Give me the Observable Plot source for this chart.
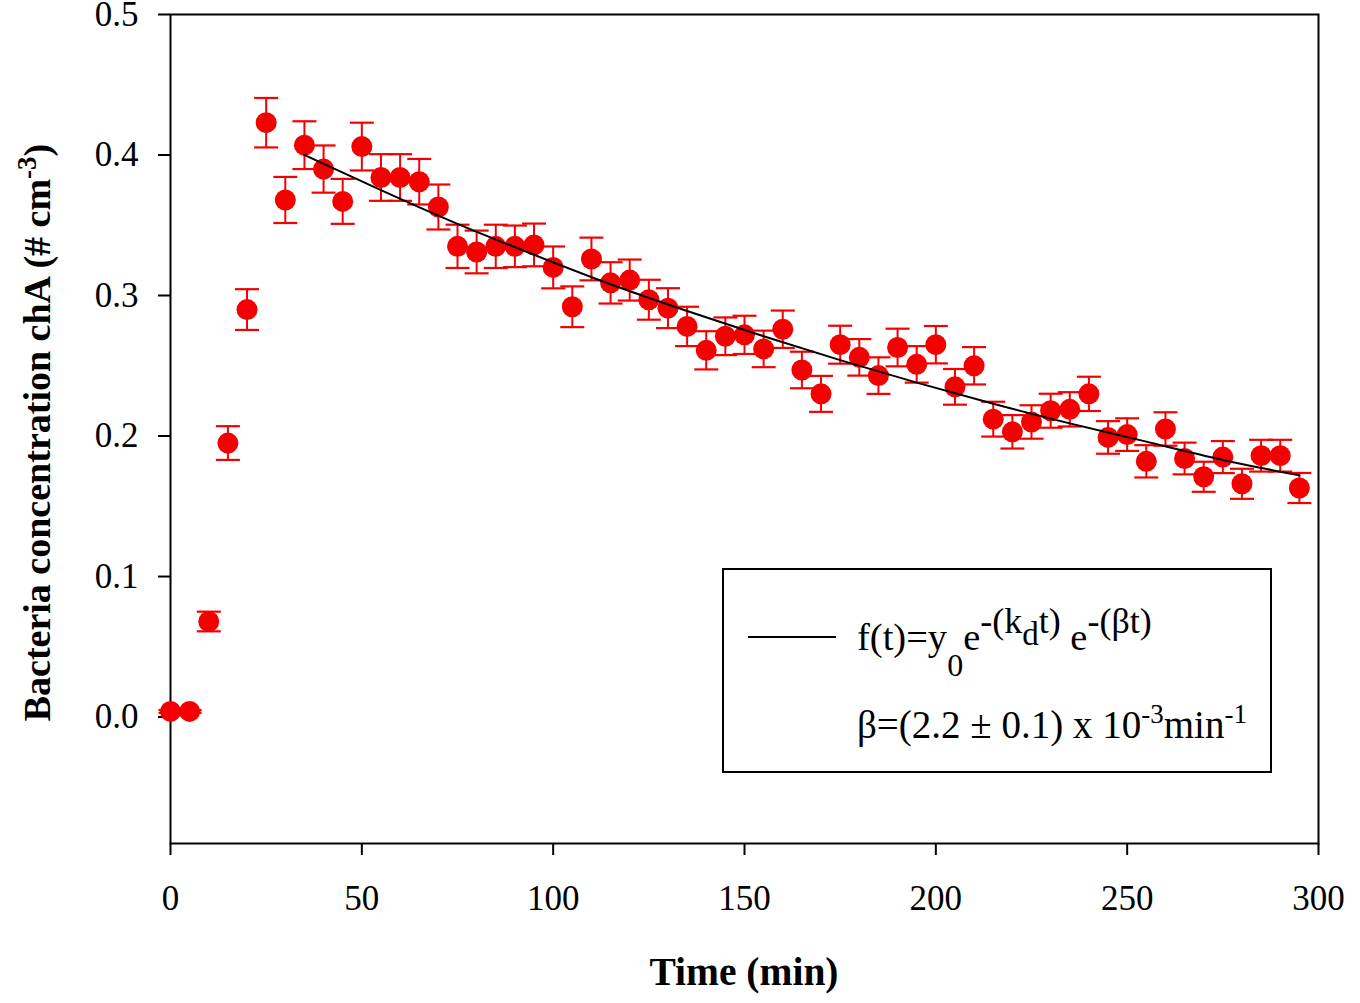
<!DOCTYPE html>
<html>
<head>
<meta charset="utf-8">
<script src="https://cdn.jsdelivr.net/npm/d3@7"></script>
<script src="https://cdn.jsdelivr.net/npm/@observablehq/plot@0.6"></script>
<style>
  body { margin: 0; background: #fff; }
  #chart svg { display: block; }
</style>
</head>
<body>
<div id="chart"></div>
<script>
// sampling times (min)
const times = [0, 5, 10, 15, 20, 25, 30, 35, 40, 45, 50, 55, 60, 65, 70, 75, 80, 85, 90, 95,
  100, 105, 110, 115, 120, 125, 130, 135, 140, 145, 150, 155, 160, 165, 170, 175, 180, 185, 190, 195,
  200, 205, 210, 215, 220, 225, 230, 235, 240, 245, 250, 255, 260, 265, 270, 275, 280, 285, 290, 295];

// bacteria concentration chA (# cm^-3)
const conc = [0.004, 0.004, 0.068, 0.195, 0.290, 0.423, 0.368, 0.407, 0.390, 0.367,
  0.406, 0.384, 0.384, 0.381, 0.363, 0.335, 0.331, 0.335, 0.335, 0.336,
  0.320, 0.292, 0.326, 0.309, 0.311, 0.297, 0.291, 0.278, 0.261, 0.271,
  0.272, 0.262, 0.276, 0.247, 0.230, 0.265, 0.256, 0.243, 0.263, 0.251,
  0.265, 0.235, 0.250, 0.212, 0.203, 0.210, 0.218, 0.219, 0.230, 0.199,
  0.201, 0.182, 0.205, 0.184, 0.171, 0.185, 0.166, 0.186, 0.186, 0.163];

// half-length of the error bars
const concErr = [0.001, 0.001, 0.007, 0.012, 0.0145, 0.0176, 0.0164, 0.017, 0.0168, 0.016,
  0.017, 0.0166, 0.0166, 0.0162, 0.016, 0.0154, 0.0152, 0.0154, 0.0148, 0.0152,
  0.0149, 0.0145, 0.0152, 0.0147, 0.0146, 0.0142, 0.0142, 0.014, 0.0136, 0.0134,
  0.0136, 0.013, 0.0133, 0.013, 0.0128, 0.0135, 0.013, 0.013, 0.0134, 0.013,
  0.0133, 0.0127, 0.0133, 0.0124, 0.0119, 0.0119, 0.0121, 0.0122, 0.0122, 0.0116,
  0.0116, 0.0115, 0.0119, 0.0113, 0.0107, 0.0114, 0.0107, 0.0113, 0.0113, 0.0107];

// fitted curve f(t), read at a few points along the black line
const fitTimes = [35, 55, 75, 95, 115, 135, 155, 175, 195, 215, 235, 255, 275, 295];
const fitConc = [0.400, 0.375, 0.351, 0.329, 0.308, 0.289, 0.271, 0.254, 0.238, 0.223, 0.209, 0.196, 0.183, 0.172];

const xTicks = [0, 50, 100, 150, 200, 250, 300];
const yTicks = [0.0, 0.1, 0.2, 0.3, 0.4, 0.5];

const rows = times.map((t, i) => ({t, c: conc[i], lo: conc[i] - concErr[i], hi: conc[i] + concErr[i]}));
const fitRows = fitTimes.map((t, i) => ({t, c: fitConc[i]}));

const red = "#f40000";
const serif = "'Liberation Serif', 'Times New Roman', serif";

// horizontal dash used as the error bar cap
const capSymbol = {
  draw(ctx, size) {
    const w = Math.sqrt(size / Math.PI);
    ctx.moveTo(-w, 0);
    ctx.lineTo(w, 0);
  }
};

const W = 1360, H = 1003;
const mLeft = 170, mRight = 42, mTop = 14, mBottom = 160;

const chart = Plot.plot({
  width: W,
  height: H,
  marginLeft: mLeft,
  marginRight: mRight,
  marginTop: mTop,
  marginBottom: mBottom,
  style: {fontFamily: serif, fontSize: "35px", color: "#000", background: "#fff", overflow: "visible"},
  x: {domain: [0, 300]},
  y: {domain: [-0.09, 0.5]},
  marks: [
    Plot.frame({stroke: "#000", strokeWidth: 2}),
    Plot.axisX({ticks: xTicks, tickSize: 12, tickPadding: 30, strokeWidth: 2, label: null}),
    Plot.axisY({ticks: yTicks, tickSize: 12, tickPadding: 20, strokeWidth: 2, tickFormat: ".1f", label: null}),
    Plot.ruleX(rows, {x: "t", y1: "lo", y2: "hi", stroke: red, strokeWidth: 2}),
    Plot.dot(rows, {x: "t", y: "hi", symbol: capSymbol, r: 12, stroke: red, strokeWidth: 2.2}),
    Plot.dot(rows, {x: "t", y: "lo", symbol: capSymbol, r: 12, stroke: red, strokeWidth: 2.2}),
    Plot.dot(rows, {x: "t", y: "c", r: 10.5, fill: red}),
    Plot.line(fitRows, {x: "t", y: "c", curve: "natural", stroke: "#000", strokeWidth: 2})
  ]
});

document.querySelector("#chart").append(chart);

const svg = d3.select(chart);

// axis titles
const plotCx = mLeft + (W - mLeft - mRight) / 2;
const plotCy = mTop + (H - mTop - mBottom) / 2;

svg.append("text")
  .attr("x", plotCx)
  .attr("y", 985)
  .attr("text-anchor", "middle")
  .attr("font-family", serif)
  .attr("font-size", 39.5)
  .attr("font-weight", "bold")
  .attr("fill", "#000")
  .text("Time (min)");

const yTitle = svg.append("text")
  .attr("transform", `translate(50,${plotCy + 4}) rotate(-90)`)
  .attr("text-anchor", "middle")
  .attr("font-family", serif)
  .attr("font-size", 38)
  .attr("font-weight", "bold")
  .attr("fill", "#000");
yTitle.append("tspan").text("Bacteria concentration chA (# cm");
yTitle.append("tspan").attr("dy", -14).attr("font-size", 27).text("-3");
yTitle.append("tspan").attr("dy", 14).text(")");

// legend box
const lg = svg.append("g")
  .attr("font-family", serif)
  .attr("text-anchor", "start")
  .attr("fill", "#000");

lg.append("rect")
  .attr("x", 723).attr("y", 569)
  .attr("width", 548).attr("height", 203)
  .attr("fill", "#fff")
  .attr("stroke", "#000")
  .attr("stroke-width", 2);

lg.append("line")
  .attr("x1", 748).attr("x2", 836)
  .attr("y1", 637).attr("y2", 637)
  .attr("stroke", "#000")
  .attr("stroke-width", 2);

const f1 = lg.append("text").attr("x", 857).attr("y", 650).attr("font-size", 38.5);
f1.append("tspan").text("f(t)=y");
f1.append("tspan").attr("dy", 26).attr("font-size", 32).text("0");
f1.append("tspan").attr("dy", -26).text("e");
f1.append("tspan").attr("dy", -17).attr("font-size", 36).text("-(k");
f1.append("tspan").attr("dy", 12).attr("font-size", 33).text("d");
f1.append("tspan").attr("dy", -12).attr("font-size", 36).text("t)");
f1.append("tspan").attr("dy", 17).text(" e");
f1.append("tspan").attr("dy", -17).attr("font-size", 36).text("-(\u03b2t)");

const f2 = lg.append("text").attr("x", 857).attr("y", 738).attr("font-size", 39);
f2.append("tspan").text("\u03b2=(2.2 \u00b1 0.1) x 10");
f2.append("tspan").attr("dy", -15).attr("font-size", 27).text("-3");
f2.append("tspan").attr("dy", 15).text("min");
f2.append("tspan").attr("dy", -15).attr("font-size", 27).text("-1");
</script>
</body>
</html>
